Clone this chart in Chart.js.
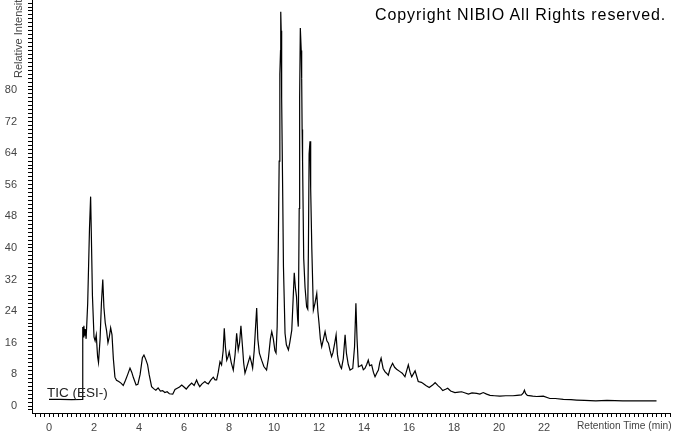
<!DOCTYPE html>
<html>
<head>
<meta charset="utf-8">
<script src="https://cdn.jsdelivr.net/npm/chart.js@4/dist/chart.umd.min.js"></script>
<style>
  html, body { margin: 0; padding: 0; background: #fff; }
  #wrap { position: relative; width: 673px; height: 433px; overflow: hidden; }
  #wrap canvas { position: absolute; left: 0; top: 0; }
  .note { position: absolute; white-space: nowrap; font-family: "Liberation Sans", Arial, sans-serif; line-height: 1; }
  #copy { left: 375px; top: 7px; font-size: 16px; letter-spacing: 0.9px; color: #000; }
  #tic { left: 47px; top: 386px; font-size: 13.5px; color: #222; }
  #xtitle { left: 577px; top: 421px; font-size: 10.2px; color: #444; }
  #ytitle { left: 12.5px; top: 77.5px; font-size: 11px; color: #444; transform-origin: 0 0; transform: rotate(-90deg); }
</style>
</head>
<body>
<div id="wrap">
  <canvas id="chart"></canvas>
  <div class="note" id="copy">Copyright NIBIO All Rights reserved.</div>
  <div class="note" id="tic">TIC (ESI-)</div>
  <div class="note" id="xtitle">Retention Time (min)</div>
  <div class="note" id="ytitle">Relative Intensity</div>
</div>
<script>
// retention time (min) and relative intensity
const retentionTimes = [
    0.00, 0.50, 1.00, 1.48, 1.50, 1.53, 1.55, 1.58, 1.61, 1.65,
    1.72, 1.80, 1.85, 1.88, 1.93, 2.00, 2.05, 2.10, 2.16, 2.20,
    2.27, 2.33, 2.39, 2.44, 2.50, 2.56, 2.62, 2.68, 2.74, 2.80,
    2.86, 2.93, 3.00, 3.10, 3.20, 3.30, 3.40, 3.50, 3.60, 3.68,
    3.75, 3.87, 3.95, 4.05, 4.15, 4.22, 4.30, 4.38, 4.45, 4.56,
    4.65, 4.75, 4.85, 4.95, 5.05, 5.15, 5.25, 5.35, 5.50, 5.60,
    5.70, 5.80, 5.90, 6.00, 6.10, 6.20, 6.34, 6.45, 6.56, 6.63,
    6.70, 6.80, 6.93, 7.00, 7.08, 7.18, 7.30, 7.38, 7.45, 7.52,
    7.60, 7.67, 7.74, 7.79, 7.84, 7.90, 7.96, 8.01, 8.10, 8.19,
    8.27, 8.34, 8.41, 8.47, 8.53, 8.60, 8.65, 8.71, 8.80, 8.93,
    9.00, 9.05, 9.12, 9.18, 9.23, 9.28, 9.35, 9.45, 9.55, 9.67,
    9.75, 9.84, 9.90, 9.97, 10.04, 10.09, 10.14, 10.19, 10.23, 10.26,
    10.29, 10.30, 10.32, 10.34, 10.39, 10.42, 10.49, 10.55, 10.64, 10.70,
    10.79, 10.85, 10.90, 10.95, 11.00, 11.05, 11.08, 11.12, 11.14, 11.17,
    11.21, 11.23, 11.25, 11.27, 11.32, 11.38, 11.45, 11.50, 11.53, 11.56,
    11.60, 11.63, 11.68, 11.75, 11.82, 11.90, 11.95, 12.00, 12.06, 12.12,
    12.20, 12.27, 12.35, 12.42, 12.49, 12.56, 12.62, 12.70, 12.76, 12.82,
    12.86, 12.95, 13.00, 13.08, 13.16, 13.22, 13.30, 13.38, 13.50, 13.58,
    13.64, 13.69, 13.75, 13.85, 13.90, 13.97, 14.04, 14.12, 14.19, 14.25,
    14.34, 14.42, 14.49, 14.58, 14.64, 14.70, 14.76, 14.85, 14.93, 15.00,
    15.08, 15.16, 15.27, 15.36, 15.45, 15.60, 15.70, 15.82, 15.90, 15.97,
    16.05, 16.12, 16.27, 16.41, 16.55, 16.63, 16.75, 16.90, 17.05, 17.16,
    17.30, 17.40, 17.50, 17.65, 17.72, 17.85, 18.04, 18.20, 18.34, 18.50,
    18.64, 18.80, 19.01, 19.15, 19.30, 19.45, 19.60, 19.80, 20.04, 20.30,
    20.62, 20.80, 21.00, 21.08, 21.13, 21.18, 21.26, 21.50, 21.67, 21.97,
    22.26, 22.50, 22.86, 23.20, 23.45, 23.80, 24.30, 24.80, 25.50, 26.00,
    26.40, 27.00
];
const intensities = [
    1.7, 1.7, 1.6, 1.7, 20.0, 17.5, 20.3, 17.8, 19.5, 17.0,
    26, 45, 53, 44, 28, 17.5, 16.5, 18, 12.5, 11,
    17, 26, 32, 25, 21, 19, 16, 17.5, 19.8, 18,
    12, 7.3, 6.5, 6.2, 5.8, 5.2, 6.5, 8.0, 9.6, 8.5,
    7.2, 5.3, 5.5, 8, 12.2, 12.9, 11.8, 10.5, 8, 4.9,
    4.4, 4.0, 4.6, 3.8, 3.9, 3.4, 3.6, 3.1, 3.0, 4.2,
    4.5, 4.8, 5.3, 4.8, 4.3, 5.0, 5.8, 5.2, 6.6, 5.6,
    4.9, 5.6, 6.2, 5.8, 5.6, 6.5, 7.3, 6.6, 6.6, 8.5,
    11.2, 10.4, 14, 19.7, 15, 11.6, 12.5, 13.7, 11, 9.1,
    13, 18.4, 14.2, 16, 20.3, 15, 11, 8.3, 10, 12.5,
    11, 9.6, 14, 20, 24.8, 17, 13.4, 11.6, 10, 9.1,
    12, 17, 18.8, 17, 14, 13.4, 20, 40, 62, 84,
    90, 99.8, 95, 78, 52, 35.3, 18.4, 15.5, 14.2, 16,
    19.2, 27, 33.7, 30, 27.7, 22, 20.1, 50, 78, 95.7,
    90, 83, 70, 62, 37.4, 30, 25.1, 24.5, 40, 63.8,
    67, 55, 40, 24.3, 26, 28.5, 24, 21, 17, 15,
    17, 18.8, 16.5, 15.9, 14, 12.5, 13.5, 16, 18, 13,
    11.6, 10, 9.5, 12, 18, 13.3, 10.5, 9.1, 9.5, 15,
    26, 17, 9.9, 10.2, 10.4, 9.2, 9.5, 10.5, 11.6, 10.2,
    10.4, 8.5, 7.4, 8.5, 9.1, 11, 12.1, 9.5, 8.7, 8.3,
    7.8, 9.5, 10.8, 9.8, 9.3, 8.7, 8.3, 7.4, 9, 10.4,
    8.5, 7.4, 8.9, 6.2, 6.0, 5.7, 5.2, 4.7, 5.3, 5.9,
    5.1, 4.6, 3.9, 4.3, 4.5, 3.8, 3.4, 3.5, 3.6, 3.3,
    3.0, 3.3, 3.2, 3.0, 3.4, 3.0, 2.7, 2.6, 2.5, 2.6,
    2.6, 2.7, 2.8, 3.3, 4.0, 3.2, 2.7, 2.5, 2.4, 2.5,
    1.9, 1.9, 1.7, 1.6, 1.5, 1.4, 1.3, 1.4, 1.3, 1.3,
    1.3, 1.3
];

// labelled ticks (minor ticks drawn unlabelled in between)
const xTickLabels = [0, 2, 4, 6, 8, 10, 12, 14, 16, 18, 20, 22];
const yTickLabels = [0, 8, 16, 24, 32, 40, 48, 56, 64, 72, 80];

const points = retentionTimes.map((t, i) => ({ x: t, y: intensities[i] }));

const isLabel = (list, v) => list.some(l => Math.abs(l - v) < 1e-6);
const tickFont = { family: '"Liberation Sans", Arial, sans-serif', size: 11 };

// pin the plot area: y axis 32px wide, x axis 20px tall, no label overhang padding
const pinAxis = (w, h) => s => {
    if (w !== null) s.width = w;
    if (h !== null) s.height = h;
    s.paddingTop = 0;
    s.paddingBottom = 0;
    s.paddingLeft = 0;
    s.paddingRight = 0;
};

new Chart(document.getElementById('chart'), {
    type: 'line',
    data: {
        datasets: [{
            data: points,
            borderColor: '#000',
            borderWidth: 1.2,
            pointRadius: 0,
            tension: 0,
            fill: false
        }]
    },
    options: {
        responsive: true,
        maintainAspectRatio: false,
        animation: false,
        layout: { padding: { left: 0, right: 3, top: 0, bottom: 0 } },
        plugins: {
            legend: { display: false },
            tooltip: { enabled: false }
        },
        scales: {
            x: {
                type: 'linear',
                min: -0.7556,
                max: 27.6,
                afterFit: pinAxis(null, 20),
                border: { display: true, color: '#000', width: 1 },
                grid: { drawOnChartArea: false, drawTicks: true, tickLength: 4, tickColor: '#000' },
                ticks: {
                    stepSize: 0.2,
                    autoSkip: false,
                    maxRotation: 0,
                    includeBounds: false,
                    padding: 4,
                    color: '#444',
                    font: tickFont,
                    callback: v => isLabel(xTickLabels, v) ? String(Math.round(v)) : ''
                }
            },
            y: {
                type: 'linear',
                min: -1.772,
                max: 102.78,
                afterFit: pinAxis(32, null),
                border: { display: true, color: '#000', width: 1 },
                grid: { drawOnChartArea: false, drawTicks: true, tickLength: 4, tickColor: '#000' },
                ticks: {
                    stepSize: 1,
                    autoSkip: false,
                    includeBounds: false,
                    padding: 11,
                    color: '#444',
                    font: tickFont,
                    callback: v => isLabel(yTickLabels, v) ? String(Math.round(v)) : ''
                }
            }
        }
    }
});
</script>
</body>
</html>
